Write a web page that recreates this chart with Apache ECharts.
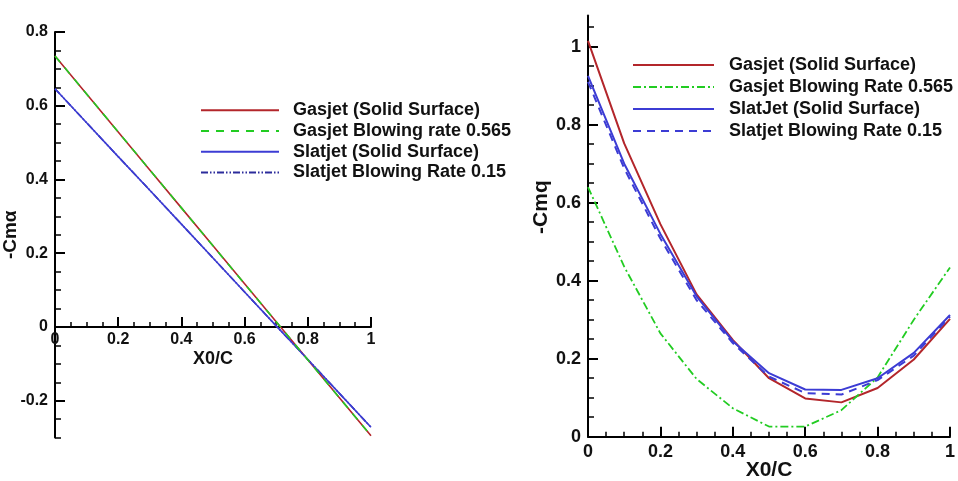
<!DOCTYPE html>
<html>
<head>
<meta charset="utf-8">
<script src="https://cdn.jsdelivr.net/npm/echarts@6/dist/echarts.min.js"></script>
<style>
  html, body { margin: 0; padding: 0; background: #ffffff; }
  #wrap { position: relative; width: 958px; height: 481px; overflow: hidden; background: #ffffff; }
  #left { position: absolute; left: 0; top: 0; width: 600px; height: 481px; }
  #right { position: absolute; left: 479px; top: 0; width: 479px; height: 481px; }
</style>
</head>
<body>
<div id="wrap"><div id="left"></div><div id="right"></div></div>
<script>
// Reference-point stations along the chord (X0/C)
const xStations = [0, 0.1, 0.2, 0.3, 0.4, 0.5, 0.6, 0.7, 0.8, 0.9, 1.0];

// Pitch-stiffness derivative -Cmα
const cmaGasjetSolid   = [0.735, 0.632, 0.529, 0.426, 0.323, 0.220, 0.117, 0.014, -0.089, -0.192, -0.295];
const cmaGasjetBlowing = [0.735, 0.632, 0.529, 0.426, 0.323, 0.220, 0.117, 0.014, -0.089, -0.192, -0.295];
const cmaSlatjetSolid  = [0.646, 0.554, 0.462, 0.371, 0.279, 0.187, 0.095, 0.003, -0.088, -0.180, -0.272];
const cmaSlatjetBlowing= [0.646, 0.554, 0.462, 0.371, 0.279, 0.187, 0.095, 0.003, -0.088, -0.180, -0.272];

// Pitch-damping derivative -Cmq
const cmqGasjetSolid   = [1.015, 0.752, 0.545, 0.365, 0.248, 0.150, 0.098, 0.088, 0.125, 0.198, 0.302];
const cmqGasjetBlowing = [0.640, 0.436, 0.265, 0.148, 0.073, 0.026, 0.026, 0.068, 0.152, 0.300, 0.434];
const cmqSlatjetSolid  = [0.925, 0.700, 0.520, 0.360, 0.245, 0.163, 0.121, 0.120, 0.150, 0.215, 0.312];
const cmqSlatjetBlowing= [0.910, 0.688, 0.508, 0.350, 0.240, 0.154, 0.112, 0.108, 0.145, 0.208, 0.308];

// Series names
const leftNames  = ['Gasjet (Solid Surface)', 'Gasjet Blowing rate 0.565', 'Slatjet (Solid Surface)', 'Slatjet Blowing Rate 0.15'];
const rightNames = ['Gasjet (Solid Surface)', 'Gasjet Blowing Rate 0.565', 'SlatJet (Solid Surface)', 'Slatjet Blowing Rate 0.15'];

// Axis tick values
const cmaMajorTicks = [-0.2, 0, 0.2, 0.4, 0.6, 0.8];
const cmaMinorTicks = [-0.3, -0.25, -0.2, -0.15, -0.1, -0.05, 0, 0.05, 0.1, 0.15, 0.2, 0.25, 0.3, 0.35, 0.4, 0.45, 0.5, 0.55, 0.6, 0.65, 0.7, 0.75, 0.8];
const cmqMajorTicks = [0, 0.2, 0.4, 0.6, 0.8, 1.0];
const cmqMinorTicks = [0.05, 0.1, 0.15, 0.2, 0.25, 0.3, 0.35, 0.4, 0.45, 0.5, 0.55, 0.6, 0.65, 0.7, 0.75, 0.8, 0.85, 0.9, 0.95, 1.0, 1.05];

const FONT = '"Liberation Sans", Arial, Helvetica, sans-serif';
const INK = '#111111';
const RED = '#b3262b';
const GREEN = '#22cc22';
const BLUE = '#3c3cd4';
const NAVY = '#2c2c9c';

// Left panel: the x axis sits on the -Cmα = 0 line
const CMA_MIN = -0.3, CMA_MAX = 0.8;
const LEFT_GRID = { left: 55, top: 32, width: 316, height: 405.6 };
const leftXAxisShift = -LEFT_GRID.height * (0 - CMA_MIN) / (CMA_MAX - CMA_MIN);

function pairs(ys) { return xStations.map((x, i) => [x, ys[i]]); }
function txt(size) { return { fontFamily: FONT, fontWeight: 'bold', fontSize: size, color: INK }; }

function lineSeries(name, ys, color, width, type, z) {
  return {
    name: name, type: 'line', data: pairs(ys), xAxisIndex: 0, yAxisIndex: 0,
    showSymbol: false, symbol: 'none', smooth: false, z: z || 2,
    lineStyle: { color: color, width: width, type: type },
    itemStyle: { color: color },
    emphasis: { disabled: true }
  };
}

function xAxisCfg(nameSize, labelSize, nameGap, labelMargin, offset) {
  return {
    type: 'value', min: 0, max: 1, interval: 0.2, position: 'bottom', offset: offset,
    name: 'X0/C', nameLocation: 'middle', nameGap: nameGap, nameMoveOverlap: false, nameTextStyle: txt(nameSize),
    axisLine: { show: true, onZero: false, lineStyle: { color: '#000', width: 2 } },
    axisTick: { show: true, inside: true, length: 10, lineStyle: { color: '#000', width: 2 } },
    minorTick: { show: true, splitNumber: 4, length: 5, lineStyle: { color: '#000', width: 1.5 } },
    splitLine: { show: false }, minorSplitLine: { show: false },
    axisLabel: Object.assign({ margin: labelMargin, showMinLabel: true, showMaxLabel: true }, txt(labelSize))
  };
}

function yAxesCfg(min, max, major, minor, name, nameSize, labelSize, nameGap, namePad) {
  return [
    {
      type: 'value', min: min, max: max, position: 'left', offset: 0,
      name: name, nameLocation: 'middle', nameGap: nameGap, nameMoveOverlap: false,
      nameTextStyle: Object.assign({ padding: namePad }, txt(nameSize)),
      axisLine: { show: true, onZero: false, lineStyle: { color: '#000', width: 2 } },
      axisTick: { show: true, inside: true, length: 10, customValues: major, lineStyle: { color: '#000', width: 2 } },
      axisLabel: Object.assign({ margin: 7, customValues: major }, txt(labelSize)),
      splitLine: { show: false }
    },
    {
      type: 'value', min: min, max: max, position: 'left', offset: 0,
      axisLine: { show: false, onZero: false },
      axisTick: { show: true, inside: true, length: 6, customValues: minor, lineStyle: { color: '#000', width: 1.5 } },
      axisLabel: { show: false },
      splitLine: { show: false }
    }
  ];
}

function legendCfg(left, top, itemWidth, rowHeight, names, textPad) {
  return {
    orient: 'vertical', left: left, top: top, itemWidth: itemWidth, itemHeight: 14, itemGap: 0,
    padding: 0, selectedMode: false, data: names,
    itemStyle: { opacity: 0, color: 'rgba(0,0,0,0)', borderWidth: 0 },
    textStyle: Object.assign({ lineHeight: rowHeight, height: rowHeight, padding: [0, 0, 0, textPad] }, txt(18))
  };
}

const leftChart = echarts.init(document.getElementById('left'), null, { renderer: 'canvas' });
leftChart.setOption({
  animation: false,
  grid: Object.assign({ containLabel: false, outerBoundsMode: 'none' }, LEFT_GRID),
  legend: legendCfg(200, 100, 78, 20.7, leftNames, 9),
  xAxis: xAxisCfg(18, 16, 23, 5, leftXAxisShift),
  yAxis: yAxesCfg(CMA_MIN, CMA_MAX, cmaMajorTicks, cmaMinorTicks, '-Cmα', 19, 16, 35, [0, 0, 0, 0]),
  series: [
    lineSeries(leftNames[0], cmaGasjetSolid, RED, 1.6, 'solid', 2),
    lineSeries(leftNames[1], cmaGasjetBlowing, GREEN, 1.6, [8, 7], 3),
    lineSeries(leftNames[2], cmaSlatjetSolid, BLUE, 1.6, 'solid', 2),
    lineSeries(leftNames[3], cmaSlatjetBlowing, NAVY, 1.6, [7, 2, 1.5, 2, 1.5, 2], 1)
  ]
});

const rightChart = echarts.init(document.getElementById('right'), null, { renderer: 'canvas' });
rightChart.setOption({
  animation: false,
  grid: { left: 109, top: 15.5, width: 362, height: 421.2, containLabel: false, outerBoundsMode: 'none' },
  legend: legendCfg(153, 54, 81, 22, rightNames, 10),
  xAxis: xAxisCfg(21, 18, 23, 6, 0),
  yAxis: yAxesCfg(0, 1.08, cmqMajorTicks, cmqMinorTicks, '-Cmq', 21, 18, 36, [0, 0, 0, 38]),
  series: [
    lineSeries(rightNames[0], cmqGasjetSolid, RED, 2, 'solid', 2),
    lineSeries(rightNames[1], cmqGasjetBlowing, GREEN, 1.8, [8, 3, 2, 3], 2),
    lineSeries(rightNames[2], cmqSlatjetSolid, BLUE, 2, 'solid', 2),
    lineSeries(rightNames[3], cmqSlatjetBlowing, BLUE, 2, [8, 6], 3)
  ]
});
</script>
</body>
</html>
